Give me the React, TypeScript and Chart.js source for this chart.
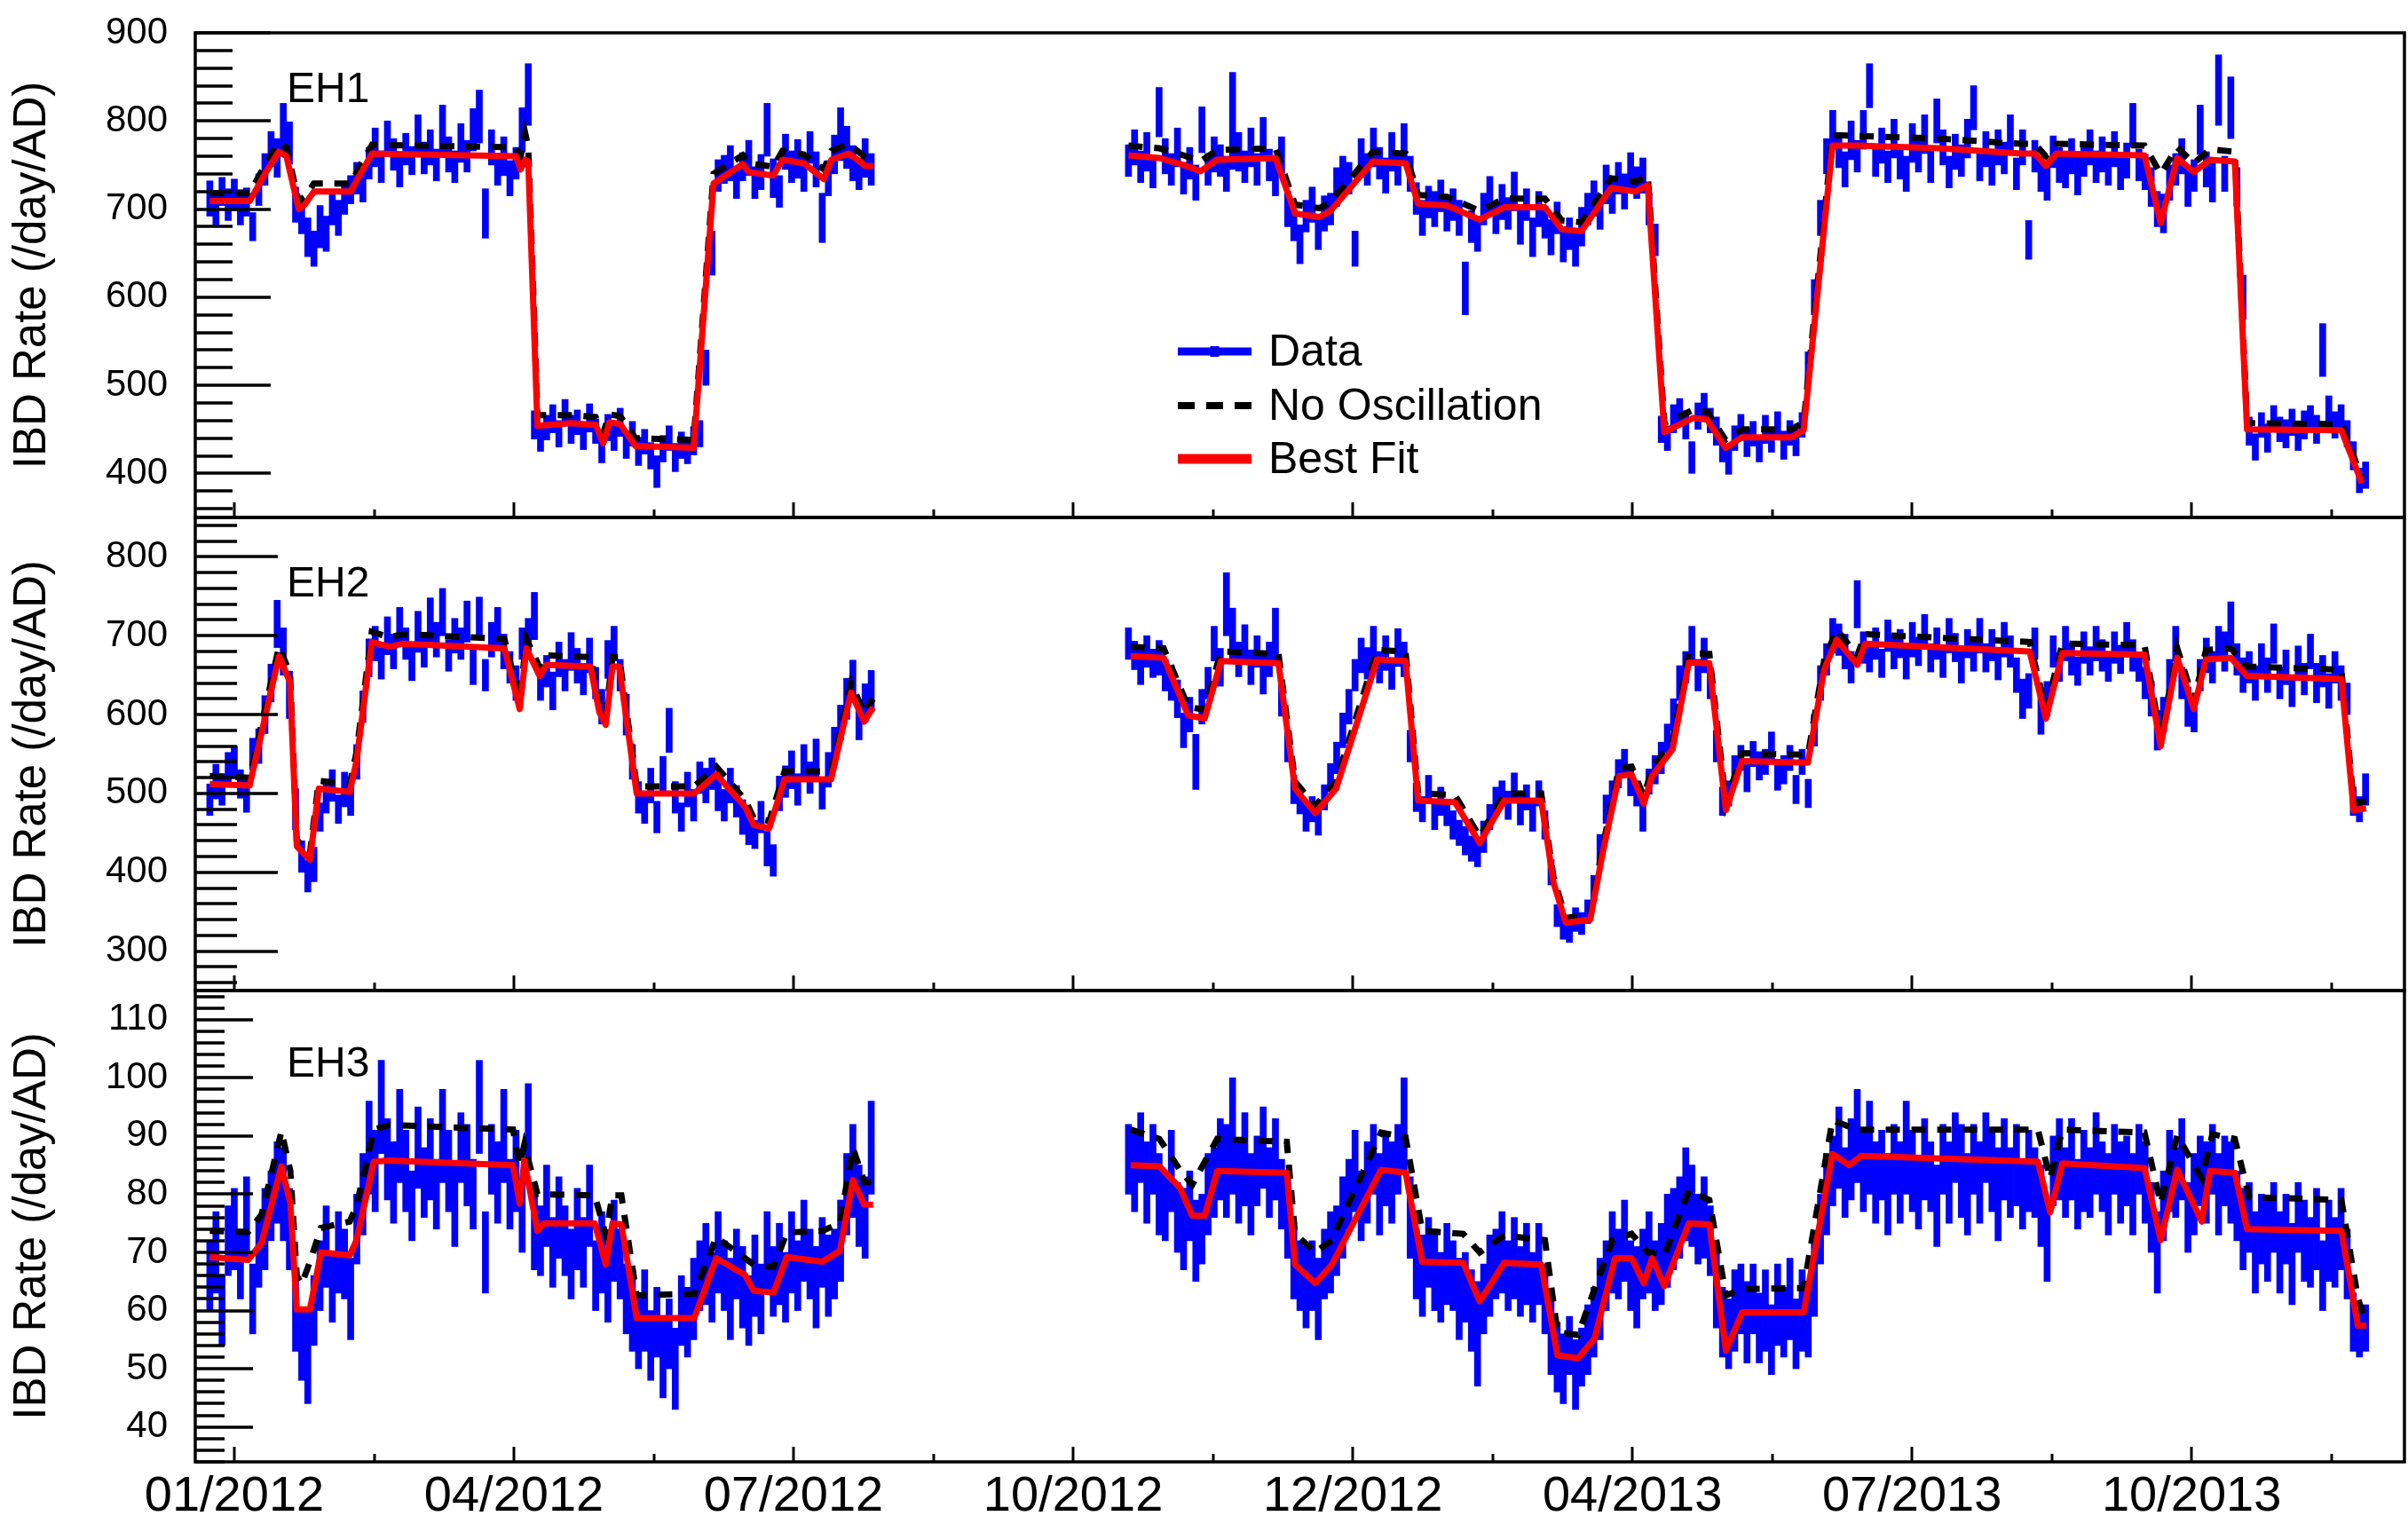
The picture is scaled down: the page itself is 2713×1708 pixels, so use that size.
import React, { useEffect, useRef } from "react";
import { Chart, registerables } from "chart.js";

Chart.register(...registerables);

const FONT = '"Liberation Sans", Arial, Helvetica, sans-serif';

// ---- x axis (days since 01/01/2012) ----
const X_MIN = -12.75;
const X_MAX = 708.7;
const X_TICK_DAYS = [0, 91.31, 182.62, 273.94, 365.25, 456.56, 547.87, 639.19];
const X_MINOR_DAYS = [45.66, 136.97, 228.28, 319.59, 410.91, 502.22, 593.53, 684.84];
const X_TICK_LABELS = ["01/2012", "04/2012", "07/2012", "10/2012", "12/2012", "04/2013", "07/2013", "10/2013"];

// daily data shown every 2 days; two data-taking periods
const DAY_STEP = 2;
const SEG1_START = -8;
const SEG2_START = 292;

// ---- y tick labels ----
const EH1_Y_TICKS = [400, 500, 600, 700, 800, 900];
const EH2_Y_TICKS = [300, 400, 500, 600, 700, 800];
const EH3_Y_TICKS = [40, 50, 60, 70, 80, 90, 100, 110];

// ---- EH1 data ----
const EH1_RATE_1 = [
  712, 698, 720, 705, 716, 702, 708, 680, 722, 745,
  768, 758, 790, 775, 705, 690, 668, 655, 680, 672,
  700, 690, 712, 722, 735, 728, 752, 770, 748, 780,
  762, 745, 768, 755, 785, 758, 770, 750, 790, 762,
  748, 775, 760, 790, 805, 695, 770, 745, 760, 735,
  752, 790, 830, 455, 440, 452, 462, 445, 470, 450,
  458, 442, 463, 448, 430, 452, 440, 458, 432, 445,
  425, 436, 420, 402, 428, 440, 418, 432, 425, 437,
  445, 520, 650, 738, 745, 752, 730, 748, 758, 730,
  742, 790, 735, 720, 765, 748, 757, 740, 770, 745,
  690, 735, 762, 785, 770, 752, 740, 758, 745,
];
const EH1_ERR_1 = [
  20, 18, 16, 18, 18, 20, 16, 16, 18, 18,
  20, 22, 30, 24, 20, 18, 22, 20, 24, 20,
  18, 20, 18, 16, 18, 20, 18, 22, 18, 20,
  18, 20, 18, 16, 22, 18, 20, 18, 28, 20,
  18, 22, 18, 24, 30, 28, 20, 18, 22, 20,
  18, 25, 35, 16, 15, 14, 16, 15, 14, 16,
  14, 15, 16, 14, 18, 15, 14, 16, 15, 14,
  16, 14, 15, 18, 15, 14, 16, 15, 14, 16,
  15, 20, 25, 18, 16, 20, 18, 16, 20, 18,
  20, 30, 22, 18, 20, 18, 22, 20, 18, 20,
  28, 20, 22, 30, 24, 20, 18, 22, 18,
];
const EH1_RATE_2 = [
  755, 770, 748, 765, 742, 810, 760, 745, 770, 735,
  752, 730, 790, 745, 762, 755, 740, 800, 765, 748,
  770, 745, 782, 750, 735, 760, 700, 682, 660, 692,
  705, 672, 695, 700, 725, 740, 735, 655, 758, 745,
  770, 752, 738, 765, 745, 775, 740, 712, 690, 708,
  700, 715, 695, 705, 690, 610, 680, 672, 700, 715,
  690, 708, 695, 720, 680, 705, 668, 700, 685, 668,
  690, 660, 672, 655, 680, 700, 712, 695, 728, 715,
  735, 720, 742, 730, 738, 700, 665, 450, 440, 462,
  470, 455, 418, 465, 475, 460, 448, 428, 415, 440,
  452, 435, 445, 428, 450, 438, 455, 432, 446, 435,
  455, 520, 600, 690, 760, 790, 765, 745, 778, 760,
  790, 840, 755, 772, 748, 780, 752, 740, 775, 760,
  785, 748, 800, 770, 742, 765, 755, 780, 815, 750,
  768, 745, 770, 758, 785, 740, 770, 665, 760, 740,
  730, 765, 750, 742, 760, 738, 755, 770, 748, 762,
  745, 768, 740, 755, 795, 750, 742, 725, 700, 695,
  730, 745, 760, 725, 738, 790, 745, 730, 835, 740,
  815, 725, 600, 448, 430, 455, 440, 462, 450, 445,
  458, 440, 455, 462, 450, 540, 470, 455, 462, 445,
  420, 392, 398,
];
const EH1_ERR_2 = [
  18, 20, 18, 22, 18, 28, 20, 18, 22, 18,
  18, 20, 26, 18, 20, 18, 20, 55, 22, 18,
  22, 18, 22, 18, 20, 22, 20, 18, 22, 18,
  20, 18, 20, 18, 22, 20, 18, 20, 22, 18,
  22, 18, 20, 22, 18, 22, 20, 18, 20, 18,
  20, 18, 20, 18, 20, 30, 18, 20, 18, 22,
  18, 20, 18, 22, 20, 18, 22, 20, 18, 20,
  18, 20, 18, 20, 22, 18, 20, 18, 22, 20,
  18, 20, 22, 18, 20, 18, 18, 15, 14, 16,
  15, 16, 18, 15, 16, 14, 16, 15, 16, 14,
  15, 16, 14, 15, 16, 14, 15, 16, 14, 15,
  14, 18, 20, 20, 20, 22, 18, 20, 22, 18,
  22, 25, 18, 20, 18, 22, 18, 20, 22, 18,
  22, 18, 25, 20, 18, 20, 18, 22, 25, 18,
  20, 18, 20, 18, 22, 18, 20, 22, 18, 20,
  20, 18, 20, 18, 20, 22, 18, 20, 18, 20,
  18, 20, 18, 20, 25, 18, 20, 22, 20, 22,
  20, 18, 20, 22, 18, 28, 20, 22, 40, 20,
  35, 22, 25, 16, 15, 14, 16, 15, 14, 16,
  15, 14, 16, 15, 16, 30, 18, 15, 16, 15,
  16, 14, 15,
];

// ---- EH2 data ----
const EH2_RATE_1 = [
  492, 515, 505, 530, 540, 512, 498, 550, 560, 600,
  640, 715, 680, 625, 480, 420, 395, 410, 470, 495,
  510, 480, 505, 492, 540, 610, 672, 690, 665, 700,
  680, 712, 690, 665, 705, 680, 720, 695, 730, 675,
  700, 690, 718, 660, 725, 650, 695, 712, 680, 660,
  640, 690, 700, 725, 640, 655, 630, 670, 650, 680,
  662, 645, 675, 640, 610, 670, 690, 650, 600, 540,
  495, 480, 510, 470, 525, 580, 495, 470, 505, 485,
  520, 510, 525, 500, 485, 510, 490, 470, 455, 448,
  470, 430, 415, 500, 515, 530, 505, 540, 520, 545,
  500, 530, 560, 590, 620, 645, 590, 615, 630,
];
const EH2_ERR_1 = [
  20, 22, 20, 22, 20, 18, 22, 20, 22, 24,
  24, 30, 30, 30, 26, 20, 20, 22, 18, 20,
  20, 18, 22, 20, 22, 20, 24, 22, 20, 24,
  22, 24, 20, 22, 26, 20, 28, 22, 30, 20,
  22, 20, 26, 22, 24, 20, 22, 24, 22, 20,
  22, 20, 22, 30, 22, 20, 24, 22, 20, 24,
  22, 20, 22, 20, 22, 24, 22, 20, 26, 22,
  20, 18, 22, 20, 22, 28, 20, 18, 22, 20,
  20, 22, 20, 22, 20, 22, 20, 22, 20, 18,
  20, 22, 20, 22, 20, 24, 20, 22, 20, 24,
  20, 22, 24, 22, 26, 24, 22, 24, 26,
];
const EH2_RATE_2 = [
  690, 675, 660, 680, 665, 672, 650, 640, 620, 580,
  600, 540, 610, 640, 690, 660, 740, 700, 670, 690,
  660, 680, 650, 670, 700, 620, 560, 505, 490, 470,
  480, 465, 495, 520, 545, 580, 610, 650, 675, 665,
  690, 660, 678, 652, 685, 670, 560, 495, 480, 505,
  470, 490, 475, 460, 450, 440, 430, 425, 445, 470,
  490, 500, 485, 510, 478, 495, 470, 500, 460, 400,
  345, 330, 325, 340, 335, 350, 380, 430, 480, 500,
  525, 540, 515, 500, 470, 515, 530, 545, 570, 600,
  640, 660, 690, 650, 675, 640, 560, 490, 500, 530,
  545, 520, 550, 535, 540, 560, 520, 530, 545, 505,
  540, 500, 580, 640, 670, 700, 695, 680, 660, 740,
  685, 672, 690, 665, 700, 680, 690, 665, 695, 680,
  705, 672, 690, 665, 700, 685, 660, 690, 675, 700,
  672, 688, 662, 695, 680, 650, 620, 630, 690, 600,
  620, 680, 660, 690, 670, 655, 685, 668, 690, 675,
  660, 685, 670, 695, 675, 660, 640, 620, 580, 600,
  650, 690, 640, 610, 600, 650, 675, 660, 690, 680,
  715, 670, 650, 660, 640, 670, 650, 690, 640, 660,
  630, 665, 645, 680, 640, 655, 630, 660, 640, 620,
  490, 480, 505,
];
const EH2_ERR_2 = [
  20, 18, 22, 20, 18, 22, 20, 22, 24, 22,
  22, 35, 22, 20, 22, 24, 40, 35, 22, 24,
  22, 20, 24, 22, 35, 22, 20, 18, 16, 18,
  16, 18, 16, 18, 20, 22, 22, 20, 22, 20,
  22, 20, 22, 20, 24, 22, 20, 18, 16, 18,
  16, 18, 16, 18, 16, 18, 16, 18, 20, 16,
  18, 16, 18, 16, 18, 16, 18, 16, 18, 16,
  14, 15, 14, 15, 14, 15, 16, 18, 18, 16,
  18, 16, 18, 16, 18, 16, 18, 20, 18, 20,
  22, 20, 22, 20, 22, 20, 20, 18, 16, 18,
  16, 18, 16, 18, 16, 18, 16, 18, 16, 18,
  16, 18, 20, 22, 20, 22, 20, 22, 20, 30,
  20, 18, 20, 18, 20, 22, 18, 20, 22, 18,
  22, 18, 20, 18, 22, 18, 20, 18, 20, 22,
  18, 20, 18, 22, 20, 22, 25, 22, 20, 25,
  22, 20, 18, 22, 20, 18, 20, 18, 22, 20,
  18, 20, 18, 22, 20, 18, 20, 22, 25, 22,
  20, 22, 20, 25, 22, 20, 22, 20, 22, 25,
  28, 20, 22, 20, 22, 20, 22, 25, 20, 22,
  20, 22, 20, 22, 25, 20, 22, 20, 22, 20,
  18, 16, 20,
];

// ---- EH3 data ----
const EH3_RATE_1 = [
  66, 70, 60, 72, 74, 68, 76, 62, 70, 74,
  78, 82, 80, 74, 60, 54, 52, 60, 66, 71,
  64, 70, 68, 62, 74, 80, 88, 84, 95, 86,
  82, 90, 84, 78, 88, 82, 86, 80, 90, 84,
  78, 88, 85, 80, 95, 70, 86, 82, 90, 80,
  84, 76, 92, 74, 72, 78, 70, 76, 72, 68,
  74, 70, 78, 66, 70, 64, 72, 68, 62, 60,
  56, 60, 54, 58, 52, 56, 50, 60, 58, 62,
  66, 68, 64, 70, 66, 62, 68, 64, 60, 66,
  62, 70, 65, 68, 64, 70, 66, 72, 68, 64,
  70, 66, 68, 72, 80, 84, 78, 76, 88,
];
const EH3_ERR_1 = [
  6, 7, 6, 6, 7, 6, 7, 6, 6, 7,
  6, 7, 8, 7, 7, 6, 8, 6, 6, 7,
  6, 7, 6, 7, 6, 7, 8, 7, 8, 7,
  7, 8, 7, 6, 7, 6, 7, 6, 8, 7,
  7, 6, 7, 6, 8, 7, 6, 7, 8, 6,
  7, 6, 7, 7, 6, 7, 6, 7, 6, 6,
  7, 6, 7, 6, 7, 6, 7, 6, 6, 7,
  6, 7, 6, 6, 7, 6, 7, 6, 6, 7,
  6, 7, 6, 7, 6, 7, 6, 7, 6, 7,
  6, 7, 6, 7, 6, 7, 6, 7, 6, 7,
  6, 7, 6, 7, 7, 8, 7, 7, 8,
];
const EH3_RATE_2 = [
  86, 84, 88, 82, 86, 80, 78, 84, 76, 74,
  78, 72, 74, 80, 82, 86, 84, 90, 82, 86,
  80, 84, 88, 82, 86, 80, 76, 68, 66, 64,
  66, 62, 68, 70, 72, 76, 80, 84, 78, 82,
  86, 80, 84, 82, 86, 92, 76, 68, 66, 70,
  67, 64, 68, 66, 62, 64, 60, 56, 62, 66,
  68, 70, 66, 69, 65, 68, 64, 68, 62, 56,
  52, 50, 54, 49, 52, 55, 58, 62, 66, 70,
  68, 72, 66, 64, 68, 70, 66, 68, 72, 74,
  76, 80, 78, 74, 76, 72, 64, 58, 56, 60,
  62, 58, 62, 57, 60, 55, 61, 58, 62, 56,
  60, 58, 66, 74, 80, 84, 88, 82, 86, 90,
  84, 88, 82, 85, 80, 86, 82, 88, 84, 80,
  86, 83, 78, 86, 82, 88, 84, 80, 86, 82,
  88, 84, 80, 86, 82, 85, 80, 84, 82, 78,
  72, 84, 86, 82, 86, 80, 84, 82, 87, 83,
  80, 86, 82, 84, 80, 86, 82, 76, 70, 78,
  84, 82, 86, 76, 80, 84, 82, 86, 80, 84,
  82, 78, 74, 76, 70, 74, 72, 76, 70, 74,
  68, 76, 72, 70, 74, 66, 72, 70, 74, 68,
  58, 56, 57,
];
const EH3_ERR_2 = [
  6, 7, 6, 7, 6, 7, 6, 7, 6, 7,
  6, 7, 6, 7, 6, 7, 8, 10, 7, 8,
  7, 6, 7, 6, 7, 6, 7, 6, 6, 7,
  6, 7, 6, 7, 6, 7, 6, 7, 6, 7,
  6, 7, 6, 7, 6, 8, 7, 6, 7, 6,
  7, 6, 7, 6, 7, 6, 7, 9, 6, 7,
  6, 7, 6, 7, 6, 7, 6, 7, 6, 7,
  6, 6, 5, 6, 5, 6, 6, 7, 6, 7,
  6, 7, 6, 7, 6, 7, 6, 7, 8, 7,
  7, 8, 7, 6, 7, 6, 7, 6, 6, 7,
  6, 7, 6, 6, 7, 6, 7, 6, 7, 6,
  7, 6, 7, 6, 7, 6, 7, 6, 7, 8,
  7, 8, 7, 6, 7, 6, 7, 8, 7, 6,
  7, 6, 7, 6, 7, 6, 8, 7, 6, 7,
  6, 7, 8, 7, 6, 7, 6, 7, 6, 7,
  7, 6, 7, 6, 7, 6, 7, 6, 7, 6,
  7, 6, 7, 6, 7, 6, 7, 6, 7, 6,
  7, 6, 7, 6, 7, 6, 7, 6, 7, 6,
  7, 6, 7, 6, 7, 6, 7, 6, 7, 6,
  7, 6, 7, 6, 7, 6, 7, 6, 7, 6,
  5, 4, 4,
];

// ---- predictions: [day, rate] ----
const EH1_FIT_1 = [[-8,709],[5,709],[10,740],[14.5,765],[17,760],[21,700],[23,705],[26,720],[38,720],[42,745],[45,763],[60,762],[92,760],[93.5,745],[95,756],[96,754],[99,454],[110,457],[118,455],[120.5,434],[122.5,458],[126,456],[131,431],[150,429],[156.5,729],[166,751],[168,742],[176,738],[179,756],[186,752],[192.5,734],[195,756],[200.5,763],[203.5,756],[206,749],[208.6,749]];
const EH1_FIT_2 = [[292,761],[302,758],[310,750],[315.5,743],[321,756],[340,758],[346.4,695],[354.4,691],[358,698],[371.8,754],[382.5,752],[386.6,706],[396,704],[406.7,688],[414.7,702],[428,702],[433.5,677],[440,675],[449.6,724],[457.6,720],[461.6,727],[467,447],[476.4,463],[481,461],[487,429],[492.4,441],[508.5,441],[512.5,449],[521.9,772],[530,772],[556.8,769],[583.6,763],[588,763],[591.6,749],[595,763],[623.8,761],[629.1,684],[634.5,758],[639.9,742],[645.2,756],[653.3,754],[657.3,450],[688.1,449],[694.8,389]];
const EH1_NOOSC_1 = [[-8,718],[5,718],[10,750],[14.5,775],[17,770],[21,709],[23,714],[26,729],[38,729],[42,755],[45,773],[60,772],[92,770],[93.5,760],[95,786],[96,770],[99,466],[110,466],[118,464],[120.5,446],[122.5,467],[126,465],[131,440],[150,438],[156.5,740],[166,761],[168,752],[176,748],[179,766],[186,762],[192.5,745],[195,766],[200.5,774],[203.5,766],[206,759],[208.6,759]];
const EH1_NOOSC_2 = [[292,772],[302,769],[310,761],[315.5,754],[321,767],[340,769],[346.4,705],[354.4,701],[358,708],[371.8,765],[382.5,763],[386.6,716],[396,714],[406.7,698],[414.7,712],[428,712],[433.5,687],[440,685],[449.6,735],[457.6,731],[461.6,738],[467,457],[476.4,472],[481,470],[487,438],[492.4,450],[508.5,450],[512.5,458],[521.9,784],[530,783],[556.8,780],[583.6,774],[588,774],[591.6,760],[595,774],[623.8,772],[629.1,740],[634.5,770],[639.9,752],[645.2,768],[653.3,765],[657.3,457],[688.1,456],[694.8,395]];

const EH2_FIT_1 = [[-8,512],[5,510],[14.6,674],[18.2,641],[20.4,433],[24.7,416],[27.6,506],[37.7,502],[39.9,541],[44.9,692],[50.7,686],[55,690],[88.2,684],[93.2,607],[95.4,684],[99.7,649],[101.9,663],[116.3,661],[119.2,603],[121.3,587],[123.5,661],[125.7,661],[131.4,500],[150.2,500],[157.4,524],[166.8,483],[169.6,460],[174.7,456],[179.7,518],[194.9,518],[201.4,628],[205.7,591],[208.6,609]];
const EH2_FIT_2 = [[292.7,674],[303.5,672],[311.5,599],[316.9,595],[322.2,668],[341,665],[346.4,506],[353,475],[359.8,506],[373.2,670],[382.5,668],[386.6,491],[398.6,489],[406.7,437],[414.7,491],[426.8,491],[430.8,387],[434.8,336],[442.8,340],[446.9,425],[452.2,522],[456.3,524],[460.3,487],[463,522],[469.7,556],[475,666],[481.7,665],[487.1,479],[492.4,541],[513.9,539],[519.2,657],[523.3,695],[530,663],[532.6,690],[586.3,680],[591.6,595],[597,678],[623.8,676],[629.1,560],[634.5,672],[639.9,607],[643.9,670],[652,672],[657.3,649],[688.1,645],[692.1,479],[696.2,481]];
const EH2_NOOSC_1 = [[-8,522],[5,520],[14.6,686],[18.2,652],[20.4,441],[24.7,424],[27.6,516],[37.7,512],[39.9,552],[44.9,705],[50.7,698],[55,702],[88.2,696],[93.2,618],[95.4,696],[99.7,660],[101.9,675],[116.3,673],[119.2,614],[121.3,598],[123.5,673],[125.7,673],[131.4,509],[150.2,509],[157.4,534],[166.8,492],[169.6,469],[174.7,465],[179.7,528],[194.9,528],[201.4,640],[205.7,602],[208.6,620]];
const EH2_NOOSC_2 = [[292.7,686],[303.5,684],[311.5,610],[316.9,606],[322.2,680],[341,677],[346.4,515],[353,484],[359.8,515],[373.2,682],[382.5,680],[386.6,500],[398.6,498],[406.7,445],[414.7,500],[426.8,500],[430.8,394],[434.8,342],[442.8,346],[446.9,433],[452.2,532],[456.3,534],[460.3,496],[463,532],[469.7,566],[475,678],[481.7,677],[487.1,488],[492.4,551],[513.9,549],[519.2,669],[523.3,708],[530,675],[532.6,702],[586.3,692],[591.6,606],[597,690],[623.8,688],[629.1,570],[634.5,684],[639.9,618],[643.9,682],[652,684],[657.3,661],[688.1,657],[692.1,488],[696.2,490]];

const EH3_FIT_1 = [[-8,69.2],[4.5,68.7],[8.9,71.6],[15.4,84.8],[18.3,78.4],[20.4,60.2],[24.7,60.2],[28.3,70],[37.7,69.5],[39.9,72.1],[45.6,85.6],[50.7,85.8],[91,85],[93.2,78.4],[94.7,85.8],[99,73.7],[101.1,75],[117.7,75],[121.3,67.9],[123.5,75],[126.4,74.8],[131.4,58.7],[150.2,58.7],[157.4,69],[166.8,66.1],[169.6,63.4],[176.1,63.1],[180.4,69.2],[192,68.4],[197.8,70.3],[202,82.4],[205.7,78.2],[208.6,78.2]];
const EH3_FIT_2 = [[292.7,85],[302.1,84.8],[308.8,81.1],[312.8,76.3],[316.9,76.3],[321,84],[343.7,83.7],[346.4,67.9],[353,64.7],[358.4,67.9],[374.5,84.2],[382.5,83.7],[387.9,68.4],[401.3,68.2],[406.7,61.6],[414.7,68.2],[426.8,67.9],[432.1,52.3],[438.8,51.8],[444.2,55.2],[450.9,69],[456.3,69],[460.3,64.7],[463,69],[467,64.2],[475,75],[481.7,74.8],[487.1,53.1],[492.4,59.7],[512.5,59.7],[521.9,86.9],[527.3,85],[531.3,86.6],[589,85.6],[593,76.9],[597,85.3],[623.8,84.5],[629.1,72.1],[634.5,84.2],[642.5,75.3],[645.2,84],[653.3,83.7],[657.3,74],[688.1,73.7],[693.5,57.4],[696.2,57.4]];
const EH3_NOOSC_1 = [[-8,73.7],[4.5,73.5],[8.9,76.5],[15.4,90.8],[18.3,84],[20.4,66],[22,64.5],[24.7,68.4],[28.3,74.2],[37.7,75.3],[39.9,78],[45.6,91.1],[50.7,91.9],[91,91.1],[93.2,85],[94.7,88.5],[99,80],[117.7,79.8],[121.3,73],[123.5,79.8],[126.4,79.8],[131.4,62.6],[150.2,62.9],[157.4,72.6],[166.8,69],[169.6,67.9],[176.1,67.5],[180.4,73.4],[192,73.7],[197.8,75],[202,88],[205.7,82.1],[208.6,82.1]];
const EH3_NOOSC_2 = [[292.7,91.1],[302.1,89.5],[308.8,84.2],[312.8,81.6],[321,89.5],[343.7,89],[346.4,73.2],[353,70],[358.4,72.1],[374.5,90.6],[382.5,89.8],[387.9,73.7],[401.3,73.2],[406.7,70],[414.7,72.9],[428,72.1],[432.1,56.3],[438.8,55.8],[450,72.1],[456.3,73.2],[461.6,70],[467,69.5],[475,80.6],[481.7,79],[487.1,62.6],[492.4,63.7],[512.5,63.9],[521.9,92.7],[530,91.1],[589,91.1],[593,82.7],[597,91.1],[623.8,90.6],[629.1,78.4],[634.5,90.1],[642.5,82.7],[646,90.3],[653.3,89.5],[658,79.5],[688.1,79],[693.5,62.1],[696.2,57.9]];

const LEGEND_LABELS = ["Data", "No Oscillation", "Best Fit"];

const BLUE = "#0000ff";
const RED = "#ff0000";

type PanelSpec = {
  name: string;
  yMin: number; yMax: number; yTicks: number[]; yMajor: number; yMinor: number;
  majorLen: number; minorLen: number; nameBaseline: number;
  rates: number[][]; errs: number[][]; starts: number[];
  fit: number[][][]; noOsc: number[][][];
  canvasTop: number; canvasHeight: number; padTop: number; padBottom: number;
  showX: boolean; legend: boolean;
};

const PANELS: PanelSpec[] = [
  {
    name: "EH1", yMin: 350, yMax: 900, yTicks: EH1_Y_TICKS, yMajor: 100, yMinor: 20,
    majorLen: 85, minorLen: 42, nameBaseline: 78,
    rates: [EH1_RATE_1, EH1_RATE_2], errs: [EH1_ERR_1, EH1_ERR_2], starts: [SEG1_START, SEG2_START],
    fit: [EH1_FIT_1, EH1_FIT_2], noOsc: [EH1_NOOSC_1, EH1_NOOSC_2],
    canvasTop: 0, canvasHeight: 620, padTop: 37, padBottom: 37, showX: false, legend: true,
  },
  {
    name: "EH2", yMin: 250, yMax: 850, yTicks: EH2_Y_TICKS, yMajor: 100, yMinor: 20,
    majorLen: 93, minorLen: 47, nameBaseline: 89,
    rates: [EH2_RATE_1, EH2_RATE_2], errs: [EH2_ERR_1, EH2_ERR_2], starts: [SEG1_START, SEG2_START],
    fit: [EH2_FIT_1, EH2_FIT_2], noOsc: [EH2_NOOSC_1, EH2_NOOSC_2],
    canvasTop: 548, canvasHeight: 603, padTop: 35, padBottom: 35, showX: false, legend: false,
  },
  {
    name: "EH3", yMin: 34, yMax: 115, yTicks: EH3_Y_TICKS, yMajor: 10, yMinor: 2,
    majorLen: 65, minorLen: 33, nameBaseline: 97,
    rates: [EH3_RATE_1, EH3_RATE_2], errs: [EH3_ERR_1, EH3_ERR_2], starts: [SEG1_START, SEG2_START],
    fit: [EH3_FIT_1, EH3_FIT_2], noOsc: [EH3_NOOSC_1, EH3_NOOSC_2],
    canvasTop: 1081, canvasHeight: 627, padTop: 35, padBottom: 0, showX: true, legend: false,
  },
];

function framePlugin(p: PanelSpec) {
  return {
    id: "rootFrame",
    afterDraw(chart: any) {
      const { ctx, chartArea: a, scales } = chart;
      const xs = scales.x;
      const ys = scales.y;
      ctx.save();
      ctx.strokeStyle = "#000";
      ctx.lineCap = "butt";
      // y ticks (inward)
      ctx.lineWidth = 3.5;
      const k0 = Math.ceil(p.yMin / p.yMinor - 1e-9);
      for (let k = k0; k * p.yMinor <= p.yMax + 1e-9; k++) {
        const v = k * p.yMinor;
        const r = v / p.yMajor;
        const isMajor = Math.abs(r - Math.round(r)) < 1e-6;
        const py = Math.round(ys.getPixelForValue(v));
        ctx.beginPath();
        ctx.moveTo(a.left, py);
        ctx.lineTo(a.left + (isMajor ? p.majorLen : p.minorLen), py);
        ctx.stroke();
      }
      // x ticks (inward from bottom)
      ctx.lineWidth = 3;
      X_TICK_DAYS.forEach((d) => {
        const px = Math.round(xs.getPixelForValue(d));
        ctx.beginPath();
        ctx.moveTo(px, a.bottom);
        ctx.lineTo(px, a.bottom - 17);
        ctx.stroke();
      });
      X_MINOR_DAYS.forEach((d) => {
        const px = Math.round(xs.getPixelForValue(d));
        ctx.beginPath();
        ctx.moveTo(px, a.bottom);
        ctx.lineTo(px, a.bottom - 9);
        ctx.stroke();
      });
      // frame
      ctx.lineWidth = 3.5;
      ctx.strokeRect(a.left, a.top, a.right - a.left, a.bottom - a.top);
      // hall name
      ctx.fillStyle = "#000";
      ctx.font = `48px ${FONT}`;
      ctx.textAlign = "left";
      ctx.textBaseline = "alphabetic";
      ctx.fillText(p.name, 323, a.top + p.nameBaseline);
      // legend
      if (p.legend) {
        const rowsY = [396, 457, 517];
        const x0 = 1327, x1 = 1410;
        ctx.strokeStyle = BLUE;
        ctx.lineWidth = 9;
        ctx.beginPath();
        ctx.moveTo(x0, rowsY[0]);
        ctx.lineTo(x1, rowsY[0]);
        ctx.stroke();
        ctx.fillStyle = BLUE;
        ctx.fillRect((x0 + x1) / 2 - 5, rowsY[0] - 6, 10, 12);
        ctx.strokeStyle = "#000";
        ctx.lineWidth = 8;
        ctx.setLineDash([19, 13]);
        ctx.beginPath();
        ctx.moveTo(x0, rowsY[1]);
        ctx.lineTo(x1, rowsY[1]);
        ctx.stroke();
        ctx.setLineDash([]);
        ctx.strokeStyle = RED;
        ctx.lineWidth = 11;
        ctx.beginPath();
        ctx.moveTo(x0, rowsY[2]);
        ctx.lineTo(x1, rowsY[2]);
        ctx.stroke();
        ctx.fillStyle = "#000";
        ctx.font = `50px ${FONT}`;
        ctx.textBaseline = "middle";
        LEGEND_LABELS.forEach((t, i) => ctx.fillText(t, 1429, rowsY[i] + 2));
      }
      ctx.restore();
    },
  };
}

function makeConfig(p: PanelSpec) {
  const bars: any[] = [];
  const marks: any[] = [];
  p.rates.forEach((vals, s) => {
    vals.forEach((v, i) => {
      const d = p.starts[s] + i * DAY_STEP;
      const e = p.errs[s][i];
      bars.push({ x: d, y: [v - e, v + e] });
      marks.push({ x: d, y: v });
    });
  });
  const datasets: any[] = [];
  p.fit.forEach((seg) => {
    datasets.push({
      type: "line", order: 0,
      data: seg.map(([x, y]) => ({ x, y })),
      borderColor: RED, borderWidth: 7, pointRadius: 0, tension: 0, fill: false,
      borderJoinStyle: "round",
    });
  });
  p.noOsc.forEach((seg) => {
    datasets.push({
      type: "line", order: 1,
      data: seg.map(([x, y]) => ({ x, y })),
      borderColor: "#000", borderWidth: 7, borderDash: [16, 13], pointRadius: 0, tension: 0, fill: false,
    });
  });
  datasets.push({
    type: "line", order: 2, data: marks, showLine: false,
    pointStyle: "rect", pointRadius: 3.5, pointBackgroundColor: BLUE, pointBorderWidth: 0, pointBorderColor: BLUE,
  });
  datasets.push({
    type: "bar", order: 3, data: bars, backgroundColor: BLUE, borderWidth: 0,
    barThickness: 7, grouped: false,
  });

  return {
    type: "bar",
    data: { datasets },
    options: {
      responsive: false,
      animation: false,
      devicePixelRatio: 1,
      events: [],
      layout: { padding: { top: p.padTop, bottom: p.padBottom, left: 0, right: 4 } },
      plugins: { legend: { display: false }, tooltip: { enabled: false } },
      scales: {
        x: {
          type: "linear",
          min: X_MIN,
          max: X_MAX,
          offset: false,
          display: p.showX,
          grid: { display: false },
          border: { display: false },
          afterBuildTicks: (s: any) => { s.ticks = X_TICK_DAYS.map((v) => ({ value: v })); },
          afterFit: (s: any) => { s.height = p.showX ? 61 : 0; },
          ticks: {
            autoSkip: false, maxRotation: 0, minRotation: 0, color: "#000", padding: 4,
            font: { family: FONT, size: 56, lineHeight: 1 },
            callback: (_v: any, i: number) => X_TICK_LABELS[i],
          },
        },
        y: {
          type: "linear",
          position: "left",
          min: p.yMin,
          max: p.yMax,
          grid: { display: false },
          border: { display: false },
          afterBuildTicks: (s: any) => { s.ticks = p.yTicks.map((v) => ({ value: v })); },
          afterFit: (s: any) => { s.width = 220; s.paddingTop = 0; s.paddingBottom = 0; },
          ticks: {
            color: "#000", padding: 23,
            font: { family: FONT, size: 42 },
            callback: (v: any) => String(v),
          },
          title: {
            display: true, text: "IBD Rate (/day/AD)", color: "#000",
            font: { family: FONT, size: 51 }, padding: { top: 6, bottom: 0 },
          },
        },
      },
    },
    plugins: [framePlugin(p)],
  };
}

export default function App() {
  const refs = [useRef<HTMLCanvasElement>(null), useRef<HTMLCanvasElement>(null), useRef<HTMLCanvasElement>(null)];
  useEffect(() => {
    const charts = PANELS.map((p, i) => new Chart(refs[i].current as HTMLCanvasElement, makeConfig(p) as any));
    return () => charts.forEach((c) => c.destroy());
  }, []);
  return (
    <div style={{ position: "absolute", left: 0, top: 0, width: 2713, height: 1708, background: "#fff", overflow: "hidden" }}>
      {PANELS.map((p, i) => (
        <canvas
          key={p.name}
          ref={refs[i]}
          width={2713}
          height={p.canvasHeight}
          style={{ position: "absolute", left: 0, top: p.canvasTop, width: 2713, height: p.canvasHeight }}
        />
      ))}
    </div>
  );
}
